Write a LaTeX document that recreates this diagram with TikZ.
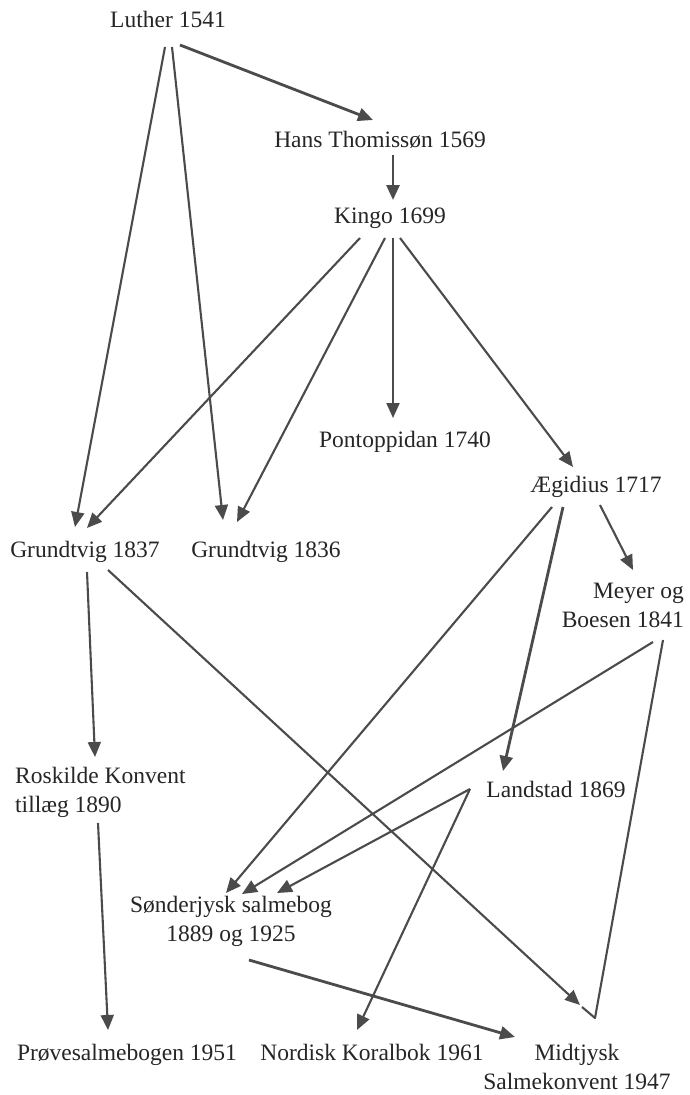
\documentclass[tikz,border=0pt]{standalone}
\usepackage{fontspec}
\setmainfont{Liberation Serif}
\usetikzlibrary{arrows.meta}
\definecolor{txt}{RGB}{38,38,38}
\definecolor{lc}{RGB}{75,75,75}
\newcommand{\stackrows}[2]{\begin{tabular}[t]{@{}#1@{}}#2\end{tabular}}
\tikzset{
  lbl/.style={inner sep=0pt, anchor=base, font=\fontsize{23.5}{29}\selectfont, text=txt},
  link/.style={draw=lc, line width=2.1pt, line join=round},
  arr/.style={link, -{Triangle[length=15pt,width=13pt]}},
  heavy/.style={line width=2.8pt}
}
\begin{document}
\begin{tikzpicture}[x=1pt,y=-1pt]
\useasboundingbox[fill=white] (0,0) rectangle (690,1095);
% nodes
\node[lbl] (luther) at (168,27) {Luther 1541};
\node[lbl] (hans) at (380,147) {Hans Thomissøn 1569};
\node[lbl] (kingo) at (390,223) {Kingo 1699};
\node[lbl] (pont) at (405,447) {Pontoppidan 1740};
\node[lbl] (aeg) at (596,492) {Ægidius 1717};
\node[lbl] (g37) at (85,557) {Grundtvig 1837};
\node[lbl] (g36) at (266,557) {Grundtvig 1836};
\node[lbl, anchor=base east] (meyer) at (684,598) {\stackrows{r}{Meyer og\\Boesen 1841}};
\node[lbl, anchor=base west] (rosk) at (15,783) {\stackrows{l}{Roskilde Konvent\\tillæg 1890}};
\node[lbl] (land) at (556,797) {Landstad 1869};
\node[lbl] (sond) at (231,912) {\stackrows{c}{Sønderjysk salmebog\\1889 og 1925}};
\node[lbl] (prove) at (127,1060) {Prøvesalmebogen 1951};
\node[lbl] (nord) at (372,1060) {Nordisk Koralbok 1961};
\node[lbl] (midt) at (577,1060) {\stackrows{c}{Midtjysk\\Salmekonvent 1947}};
\coordinate (mv) at ([shift={(18,-42)}]midt.base);
% connectors
\draw[arr, heavy] ([shift={(12,18)}]luther.base) -- ([shift={(-7,-27)}]hans.base);
\draw[arr] ([shift={(-3,20)}]luther.base) -- ([shift={(-10,-30)}]g37.base);
\draw[arr] ([shift={(4,20)}]luther.base) -- ([shift={(-43,-37)}]g36.base);
\draw[arr, heavy] ([shift={(13,8)}]hans.base) -- ([shift={(3,-23)}]kingo.base);
\draw[arr] ([shift={(-30,15)}]kingo.base) -- ([shift={(2,-29)}]g37.base);
\draw[arr] ([shift={(-5,15)}]kingo.base) -- ([shift={(-29,-35)}]g36.base);
\draw[arr] ([shift={(3,15)}]kingo.base) -- ([shift={(-12,-29)}]pont.base);
\draw[arr] ([shift={(10,15)}]kingo.base) -- ([shift={(-23,-25)}]aeg.base);
\draw[arr] ([shift={(-44,15)}]aeg.base) -- ([shift={(-5,-19)}]sond.base);
\draw[arr, heavy] ([shift={(-33,15)}]aeg.base) -- ([shift={(-53,-26)}]land.base);
\draw[arr] ([shift={(4,13)}]aeg.base) -- ([shift={(-51,-28)}]meyer.base east);
\draw[arr] ([shift={(2,15)}]g37.base) -- ([shift={(80,-26)}]rosk.base west);
\draw[arr] ([shift={(23,13)}]g37.base) -- ([shift={(3,-55)}]midt.base);
\draw[arr] ([shift={(-31,44)}]meyer.base east) -- ([shift={(11,-18)}]sond.base);
\draw[link] ([shift={(-21,42)}]meyer.base east) -- (mv) -- ([shift={(5,-53)}]midt.base);
\draw[arr] ([shift={(-86,-8)}]land.base) -- ([shift={(46,-19)}]sond.base);
\draw[arr] ([shift={(-86,-8)}]land.base) -- ([shift={(-15,-30)}]nord.base);
\draw[arr] ([shift={(83,40)}]rosk.base west) -- ([shift={(-19,-30)}]prove.base);
\draw[arr, heavy] ([shift={(18,48)}]sond.base) -- ([shift={(-62,-23)}]midt.base);
\end{tikzpicture}
\end{document}
